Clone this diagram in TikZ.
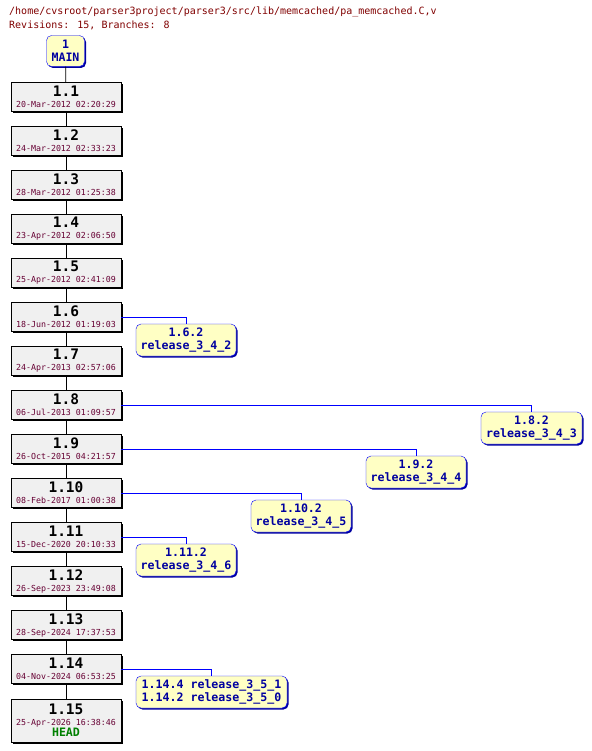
\documentclass[tikz,border=0pt]{standalone}
\usepackage{fontspec}
\setmainfont{DejaVu Sans Mono}
\usetikzlibrary{calc, shadows}

\definecolor{pathred}{HTML}{800000}
\definecolor{datered}{HTML}{660033}
\definecolor{tagblue}{HTML}{0000A0}
\definecolor{tagfill}{HTML}{FFFFC4}
\definecolor{revfill}{HTML}{F0F0F0}
\definecolor{headgreen}{HTML}{008000}

\newcommand{\revlabel}[2]{{\fontsize{14.5}{15}\selectfont\bfseries #1}\\[-1pt]{\fontsize{8.3}{9}\selectfont\color{datered}#2}}

\begin{document}
\begin{tikzpicture}[x=1pt, y=-1pt]
    \tikzstyle{revision} = [rectangle, draw=black, fill=revfill, minimum width=110pt,
        minimum height=29pt, align=center, inner sep=1pt,
        drop shadow={shadow xshift=1.5pt, shadow yshift=-1.5pt, opacity=1, fill=black}]
    \tikzstyle{tagbox} = [rectangle, rounded corners=5pt, draw=blue, fill=tagfill,
        minimum width=100pt, minimum height=32pt, align=center, inner sep=1pt,
        text=tagblue, font=\fontsize{11.6}{13}\selectfont\bfseries,
        drop shadow={shadow xshift=1.5pt, shadow yshift=-1.5pt, opacity=1, fill=tagblue}]
    \tikzstyle{trunk} = [draw=black, thick]
    \tikzstyle{branchline} = [draw=blue, thick]

    \useasboundingbox (0,0) rectangle (591,751);

    % File header ----------------------------------------
    \node (path) at (9,12) [anchor=west, inner sep=0pt, text=pathred,
        font=\fontsize{10}{11}\selectfont] {/home/cvsroot/parser3project/parser3/src/lib/memcached/pa\_memcached.C,v};
    \node (count) at (9,25) [anchor=west, inner sep=0pt, text=pathred,
        font=\fontsize{10}{11}\selectfont] {Revisions: 15, Branches: 8};

    % Trunk ----------------------------------------------
    \node (main) at (65.5,51) [tagbox, minimum width=38pt, minimum height=31pt] {1\\MAIN};
    \node (r1) at (66,97) [revision] {\revlabel{1.1}{20-Mar-2012 02:20:29}};
    \node (r2) at ($(r1) + (0,44)$) [revision] {\revlabel{1.2}{24-Mar-2012 02:33:23}};
    \node (r3) at ($(r2) + (0,44)$) [revision] {\revlabel{1.3}{28-Mar-2012 01:25:38}};
    \node (r4) at ($(r3) + (0,44)$) [revision] {\revlabel{1.4}{23-Apr-2012 02:06:50}};
    \node (r5) at ($(r4) + (0,44)$) [revision] {\revlabel{1.5}{25-Apr-2012 02:41:09}};
    \node (r6) at ($(r5) + (0,44)$) [revision] {\revlabel{1.6}{18-Jun-2012 01:19:03}};
    \node (r7) at ($(r6) + (0,44)$) [revision] {\revlabel{1.7}{24-Apr-2013 02:57:06}};
    \node (r8) at ($(r7) + (0,44)$) [revision] {\revlabel{1.8}{06-Jul-2013 01:09:57}};
    \node (r9) at ($(r8) + (0,44)$) [revision] {\revlabel{1.9}{26-Oct-2015 04:21:57}};
    \node (r10) at ($(r9) + (0,44)$) [revision] {\revlabel{1.10}{08-Feb-2017 01:00:38}};
    \node (r11) at ($(r10) + (0,44)$) [revision] {\revlabel{1.11}{15-Dec-2020 20:10:33}};
    \node (r12) at ($(r11) + (0,44)$) [revision] {\revlabel{1.12}{26-Sep-2023 23:49:08}};
    \node (r13) at ($(r12) + (0,44)$) [revision] {\revlabel{1.13}{28-Sep-2024 17:37:53}};
    \node (r14) at ($(r13) + (0,44)$) [revision] {\revlabel{1.14}{04-Nov-2024 06:53:25}};
    \node (r15) at ($(r14) + (0,51.5)$) [revision, minimum height=43pt]
        {\revlabel{1.15}{25-Apr-2026 16:38:46}\\[-1pt]{\fontsize{11.6}{13}\selectfont\bfseries\color{headgreen}HEAD}};

    \draw[trunk] (main) -- (r1);
    \draw[trunk] (r1) -- (r2);
    \draw[trunk] (r2) -- (r3);
    \draw[trunk] (r3) -- (r4);
    \draw[trunk] (r4) -- (r5);
    \draw[trunk] (r5) -- (r6);
    \draw[trunk] (r6) -- (r7);
    \draw[trunk] (r7) -- (r8);
    \draw[trunk] (r8) -- (r9);
    \draw[trunk] (r9) -- (r10);
    \draw[trunk] (r10) -- (r11);
    \draw[trunk] (r11) -- (r12);
    \draw[trunk] (r12) -- (r13);
    \draw[trunk] (r13) -- (r14);
    \draw[trunk] (r14) -- (r15);
    % ---------------------------------------------------

    % Branches -------------------------------------------
    \node (b6) at (186,340) [tagbox] {1.6.2\\release\_3\_4\_2};
    \node (b8) at (531.5,428) [tagbox, minimum width=101pt] {1.8.2\\release\_3\_4\_3};
    \node (b9) at (416,472) [tagbox] {1.9.2\\release\_3\_4\_4};
    \node (b10) at (301,516) [tagbox] {1.10.2\\release\_3\_4\_5};
    \node (b11) at (186,560) [tagbox] {1.11.2\\release\_3\_4\_6};
    \node (b14) at (211.5,692) [tagbox, minimum width=151pt] {1.14.4 release\_3\_5\_1\\1.14.2 release\_3\_5\_0};

    \draw[branchline] (r6.east) -| (b6.north);
    \draw[branchline] (r8.east) -| (b8.north);
    \draw[branchline] (r9.east) -| (b9.north);
    \draw[branchline] (r10.east) -| (b10.north);
    \draw[branchline] (r11.east) -| (b11.north);
    \draw[branchline] (r14.east) -| (b14.north);
    % ---------------------------------------------------
\end{tikzpicture}
\end{document}
